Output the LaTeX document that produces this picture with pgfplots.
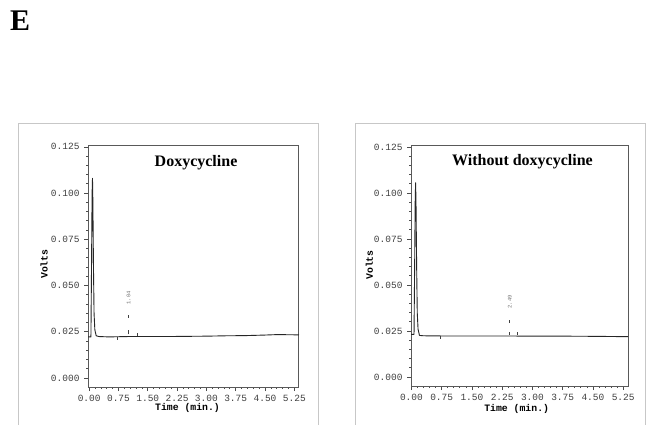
\documentclass[border=0pt]{standalone}
\usepackage{fontspec}
\setmainfont{Liberation Serif}
\newfontfamily\mono{Liberation Mono}
\usepackage{pgfplots}
\pgfplotsset{compat=1.18}
\begin{document}
\begin{tikzpicture}
\path[use as bounding box,fill=white] (0pt,0pt) rectangle (646pt,424pt);
% panel frames
\draw[black!22,line width=0.9pt] (18pt,-10pt) -- (18pt,301pt) -- (318pt,301pt) -- (318pt,-10pt);
\draw[black!22,line width=0.9pt] (355pt,-10pt) -- (355pt,301pt) -- (645pt,301pt) -- (645pt,-10pt);
\node[anchor=base west,font=\fontsize{30}{30}\selectfont\bfseries,inner sep=0pt] at (10pt,393pt) {E};
\pgfplotsset{
  chrom/.style={
    scale only axis,
    anchor=south west,
    axis line style={draw=black!65,line width=1pt},
    tick align=outside,
    major tick length=4pt,
    minor tick length=2pt,
    tick style={black!70,line width=0.7pt},
    xtick={0,0.75,...,5.25},
    ytick={0,0.025,...,0.125},
    minor x tick num=4,
    minor y tick num=4,
    xtick pos=bottom, ytick pos=left,
    /pgf/number format/assume math mode=true,
    x tick label style={/pgf/number format/fixed,/pgf/number format/fixed zerofill,/pgf/number format/precision=2,yshift=-1pt},
    y tick label style={/pgf/number format/fixed,/pgf/number format/fixed zerofill,/pgf/number format/precision=3,xshift=-1pt},
    tick label style={font=\mono\fontsize{9.5}{10}\selectfont,text=black!75},
    label style={font=\mono\bfseries\fontsize{9.8}{10}\selectfont},
    xlabel={Time (min.)},
    ylabel={Volts},
    scaled y ticks=false,
    clip=false,
  },
  trace/.style={black!85,line width=0.9pt,line join=round},
  mark/.style={black!75,line width=0.8pt},
}
% ---- left panel ----
\begin{axis}[chrom,
  at={(88pt,37pt)}, width=211pt, height=242pt,
  xmin=-0.03, xmax=5.37, ymin=-0.0049, ymax=0.126,
  xlabel style={at={(axis description cs:0.4716,-0.0868)},anchor=center},
  ylabel style={at={(axis description cs:-0.2085,0.508)},anchor=center},
]
\addplot[trace] coordinates {
(-0.03,0.0222) (0.045,0.0222) (0.06,0.060) (0.075,0.100) (0.085,0.108)
(0.095,0.095) (0.11,0.060) (0.125,0.035) (0.145,0.026) (0.18,0.0228)
(0.25,0.0224) (0.5,0.0222) (1.0,0.0224) (1.5,0.0224) (2.0,0.0224)
(2.5,0.0225) (3.0,0.0226) (3.5,0.0228) (4.0,0.0229) (4.5,0.0232)
(4.75,0.0234) (5.0,0.0234) (5.37,0.0233)};
\addplot[mark] coordinates {(0.71,0.0222) (0.71,0.0205)};
\addplot[mark] coordinates {(1.01,0.0235) (1.01,0.0262)};
\addplot[mark] coordinates {(1.23,0.0228) (1.23,0.0245)};
\addplot[mark,line width=1.2pt] coordinates {(1.01,0.0325) (1.01,0.0341)};
\node[rotate=90,font=\mono\fontsize{5.5}{6}\selectfont,text=black!55] at (axis cs:1.01,0.0433) {1.04};
\node[font=\fontsize{16}{16}\selectfont\bfseries] at (rel axis cs:0.512,0.926) {Doxycycline};
\end{axis}
% ---- right panel ----
\begin{axis}[chrom,
  at={(411pt,38pt)}, width=217pt, height=241pt,
  xmin=-0.01, xmax=5.37, ymin=-0.0049, ymax=0.1261,
  xlabel style={at={(axis description cs:0.487,-0.0954)},anchor=center},
  ylabel style={at={(axis description cs:-0.192,0.502)},anchor=center},
]
\addplot[trace] coordinates {
(-0.01,0.0232) (0.065,0.0232) (0.08,0.060) (0.095,0.098) (0.105,0.1056)
(0.115,0.093) (0.13,0.060) (0.145,0.035) (0.165,0.026) (0.20,0.0226)
(0.3,0.0224) (0.75,0.0223) (1.5,0.0223) (2.25,0.0223) (3.0,0.0222)
(3.75,0.0222) (4.5,0.0221) (5.0,0.0220) (5.37,0.0219)};
\addplot[mark] coordinates {(0.73,0.0222) (0.73,0.0205)};
\addplot[mark] coordinates {(2.44,0.0228) (2.44,0.0245)};
\addplot[mark] coordinates {(2.64,0.0228) (2.64,0.0245)};
\addplot[mark,line width=1.2pt] coordinates {(2.44,0.0293) (2.44,0.0310)};
\node[rotate=90,font=\mono\fontsize{5.5}{6}\selectfont,text=black!55] at (axis cs:2.44,0.0408) {2.49};
\node[font=\fontsize{16}{16}\selectfont\bfseries] at (rel axis cs:0.514,0.929) {Without doxycycline};
\end{axis}
\end{tikzpicture}
\end{document}
